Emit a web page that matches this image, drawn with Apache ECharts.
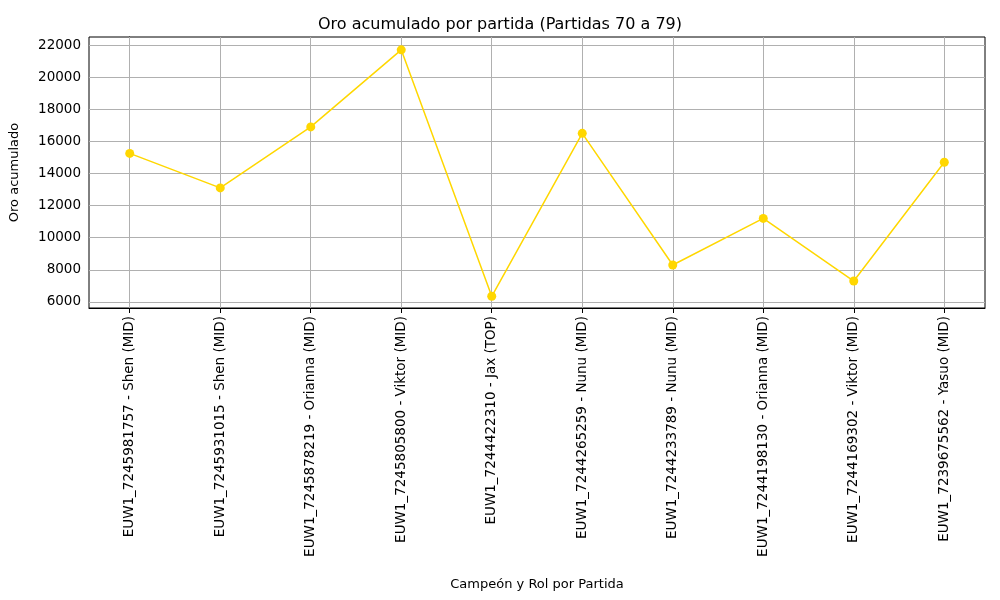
<!DOCTYPE html>
<html lang="en">
<head>
<meta charset="UTF-8">
<title>Oro acumulado</title>
<script src="https://cdn.jsdelivr.net/npm/echarts@6/dist/echarts.min.js"></script>
</head>
<body style="margin:0">
<div id="chart" style="width:1000px;height:600px;"></div>
<script>
const categories = [
  'EUW1_7245981757 - Shen (MID)', 'EUW1_7245931015 - Shen (MID)',
  'EUW1_7245878219 - Orianna (MID)', 'EUW1_7245805800 - Viktor (MID)',
  'EUW1_7244422310 - Jax (TOP)', 'EUW1_7244265259 - Nunu (MID)',
  'EUW1_7244233789 - Nunu (MID)', 'EUW1_7244198130 - Orianna (MID)',
  'EUW1_7244169302 - Viktor (MID)', 'EUW1_7239675562 - Yasuo (MID)'
];
const gold = [15250, 13100, 16900, 21700, 6350, 16500, 8300, 11200, 7300, 14700];
const yTicks = [6000, 8000, 10000, 12000, 14000, 16000, 18000, 20000, 22000];

const xIdx = categories.map((c, i) => i);
const lineStyleGrid = { color: '#b0b0b0', width: 1, type: 'solid' };

let chart = echarts.init(document.getElementById('chart'));
chart.setOption({
  animation: false,
  title: {
    text: 'Oro acumulado por partida (Partidas 70 a 79)',
    left: 'center', top: 12,
    textStyle: { fontSize: 16, fontWeight: 'normal', color: '#000', fontFamily: 'DejaVu Sans' }
  },
  grid: { left: 88, right: 15, top: 37, bottom: 292, show: true, borderColor: '#000', borderWidth: 1, backgroundColor: 'transparent' },
  xAxis: {
    type: 'value', min: -0.45, max: 9.45,
    name: 'Campeón y Rol por Partida', nameLocation: 'middle', nameGap: 270,
    nameTextStyle: { fontSize: 13, color: '#000', fontFamily: 'DejaVu Sans' },
    axisLine: { show: true, onZero: false, lineStyle: { color: '#000' } },
    splitLine: { show: false },
    axisTick: { show: true, customValues: xIdx, length: 5, lineStyle: { color: '#000' } },
    axisLabel: {
      customValues: xIdx, rotate: 90, fontSize: 13.5, color: '#000', fontFamily: 'DejaVu Sans',
      formatter: v => categories[Math.round(v)]
    }
  },
  yAxis: {
    type: 'value', min: 5620, max: 22500,
    name: 'Oro acumulado', nameLocation: 'middle', nameGap: 68,
    nameTextStyle: { fontSize: 13, color: '#000', fontFamily: 'DejaVu Sans' },
    axisLine: { show: true, lineStyle: { color: '#000' } },
    splitLine: { show: false },
    axisTick: { show: true, customValues: yTicks, length: 5, lineStyle: { color: '#000' } },
    axisLabel: { customValues: yTicks, fontSize: 13.5, color: '#000', fontFamily: 'DejaVu Sans', formatter: v => String(v) }
  },
  series: [{
    type: 'line',
    data: gold.map((v, i) => [i, v]),
    symbol: 'circle', symbolSize: 9,
    itemStyle: { color: '#ffd700' },
    lineStyle: { color: '#ffd700', width: 1.5 },
    z: 5,
    markLine: {
      silent: true, symbol: 'none', label: { show: false }, lineStyle: lineStyleGrid,
      data: yTicks.map(t => ({ yAxis: t })).concat(xIdx.map(i => ({ xAxis: i })))
    }
  }]
});
</script>
</body>
</html>
